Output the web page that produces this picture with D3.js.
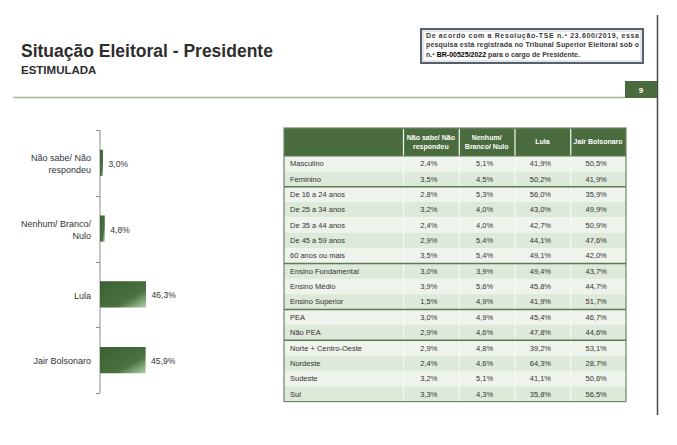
<!DOCTYPE html>
<html><head><meta charset="utf-8">
<script src="https://cdn.jsdelivr.net/npm/d3@7/dist/d3.min.js"></script>
<style>
body{margin:0;background:#fff;}
svg{display:block;font-family:"Liberation Sans",Arial,sans-serif;}
</style></head>
<body>
<svg id="c" width="677" height="445"></svg>
<script>
// ---------- data ----------
const barCategories = ["Não sabe/ Não respondeu", "Nenhum/ Branco/ Nulo", "Lula", "Jair Bolsonaro"];
const barValues = [3.0, 4.8, 46.3, 45.9];

const colHeaders = ["Não sabe/ Não respondeu", "Nenhum/ Branco/ Nulo", "Lula", "Jair Bolsonaro"];
const rowLabels = ["Masculino", "Feminino", "De 16 a 24 anos", "De 25 a 34 anos", "De 35 a 44 anos",
  "De 45 a 59 anos", "60 anos ou mais", "Ensino Fundamental", "Ensino Médio", "Ensino Superior",
  "PEA", "Não PEA", "Norte + Centro-Oeste", "Nordeste", "Sudeste", "Sul"];
const naoSabe   = [2.4, 3.5, 2.8, 3.2, 2.4, 2.9, 3.5, 3.0, 3.9, 1.5, 3.0, 2.9, 2.9, 2.4, 3.2, 3.3];
const nenhum    = [5.1, 4.5, 5.3, 4.0, 4.0, 5.4, 5.4, 3.9, 5.6, 4.9, 4.9, 4.6, 4.8, 4.6, 5.1, 4.3];
const lula      = [41.9, 50.2, 56.0, 43.0, 42.7, 44.1, 49.1, 49.4, 45.8, 41.9, 45.4, 47.8, 39.2, 64.3, 41.1, 35.8];
const bolsonaro = [50.5, 41.9, 35.9, 49.9, 50.9, 47.6, 42.0, 43.7, 44.7, 51.7, 46.7, 44.6, 53.1, 28.7, 50.6, 56.5];
const groupStarts = ["De 16 a 24 anos", "Ensino Fundamental", "PEA", "Norte + Centro-Oeste"];

const titleText = "Situação Eleitoral - Presidente";
const subtitleText = "ESTIMULADA";
const noteLines = ["De acordo com a Resolução-TSE n.º 23.600/2019, essa",
  "pesquisa está registrada no Tribunal Superior Eleitoral sob o"];
const pageNumber = "9";

// ---------- helpers ----------
const fmt = v => d3.format(".1f")(v).replace(".", ",") + "%";
const svg = d3.select("#c");
const green = "#4a6b3e";
const textCol = "#333";

// ---------- header / frame ----------
svg.append("text").attr("x", 21).attr("y", 57).attr("font-size", 17.5).attr("font-weight", "bold")
  .attr("fill", "#2e2e2e").text(titleText);
svg.append("text").attr("x", 21).attr("y", 73.5).attr("font-size", 11.5).attr("font-weight", "bold")
  .attr("fill", "#2e2e2e").text(subtitleText);

svg.append("line").attr("x1", 13).attr("x2", 625).attr("y1", 97.5).attr("y2", 97.5)
  .attr("stroke", "#a4b39a").attr("stroke-width", 1.5);
svg.append("line").attr("x1", 657.5).attr("x2", 657.5).attr("y1", 15).attr("y2", 415)
  .attr("stroke", "#4a4a4a").attr("stroke-width", 1.5);
svg.append("rect").attr("x", 625).attr("y", 81).attr("width", 32).attr("height", 17).attr("fill", green);
svg.append("text").attr("x", 641).attr("y", 92.5).attr("text-anchor", "middle").attr("font-size", 8)
  .attr("font-weight", "bold").attr("fill", "#fff").text(pageNumber);

// note box
svg.append("rect").attr("x", 421).attr("y", 29).attr("width", 222).attr("height", 34)
  .attr("fill", "#fff").attr("stroke", "#56606a").attr("stroke-width", 2);
svg.append("rect").attr("x", 423).attr("y", 31).attr("width", 218).attr("height", 30)
  .attr("fill", "none").attr("stroke", "#c9cdd2").attr("stroke-width", 1);
noteLines.forEach((l, i) => {
  svg.append("text").attr("x", 426).attr("y", 38 + i * 9.3).attr("font-size", 7).attr("font-weight", "bold")
    .attr("fill", "#3a3a3a").attr("textLength", 213).attr("lengthAdjust", "spacing").text(l);
});
const t3 = svg.append("text").attr("x", 426).attr("y", 56.6).attr("font-size", 7).attr("font-weight", "bold")
  .attr("fill", "#3a3a3a");
t3.append("tspan").text("n.º ");
t3.append("tspan").attr("fill", "#000").attr("font-weight", 900).text("BR-00525/2022");
t3.append("tspan").text(" para o cargo de Presidente.");

// ---------- bar chart ----------
const defs = svg.append("defs");
const grad = defs.append("linearGradient").attr("id", "barGrad")
  .attr("x1", "0").attr("y1", "0").attr("x2", "1").attr("y2", "1");
grad.append("stop").attr("offset", "0").attr("stop-color", "#3c5f33");
grad.append("stop").attr("offset", "0.66").attr("stop-color", "#4a7140");
grad.append("stop").attr("offset", "1").attr("stop-color", "#b3d1ab");

const yBar = d3.scaleBand().domain(barCategories).range([130, 393]).paddingInner(0.6).paddingOuter(0.3);
const yBand = d3.scaleBand().domain(barCategories).range([130, 393]);
const xBar = d3.scaleLinear().domain([0, 46.3]).range([100, 146]);

const gBar = svg.append("g");
gBar.append("line").attr("x1", 100).attr("x2", 100).attr("y1", 130).attr("y2", 393)
  .attr("stroke", "#8c8c8c").attr("stroke-width", 1);
const tickYs = barCategories.map(d => yBand(d)).concat([393]);
gBar.selectAll(".tk").data(tickYs).join("line").attr("x1", 96).attr("x2", 100)
  .attr("y1", d => Math.round(d) + 0.5).attr("y2", d => Math.round(d) + 0.5)
  .attr("stroke", "#8c8c8c");

gBar.selectAll(".bar").data(barCategories).join("rect")
  .attr("x", xBar(0)).attr("y", d => yBar(d))
  .attr("width", (d, i) => xBar(barValues[i]) - xBar(0)).attr("height", yBar.bandwidth())
  .attr("fill", "url(#barGrad)");

gBar.selectAll(".val").data(barCategories).join("text")
  .attr("x", (d, i) => xBar(barValues[i]) + 5.5).attr("y", d => yBand(d) + yBand.bandwidth() / 2 + 1)
  .attr("dy", "0.35em").attr("font-size", 8.6).attr("fill", textCol)
  .text((d, i) => fmt(barValues[i]));

// category labels with wrapping
gBar.selectAll(".cat").data(barCategories).join("text")
  .attr("text-anchor", "end").attr("font-size", 9).attr("fill", textCol)
  .each(function (d) {
    const el = d3.select(this);
    const words = d.split(" ");
    const lines = [];
    let cur = [];
    const probe = el.append("tspan");
    words.forEach(w => {
      const test = cur.concat([w]).join(" ");
      probe.text(test);
      if (probe.node().getComputedTextLength() > 75 && cur.length) {
        lines.push(cur.join(" "));
        cur = [w];
      } else cur.push(w);
    });
    lines.push(cur.join(" "));
    probe.remove();
    const cy = yBand(d) + yBand.bandwidth() / 2 + 1;
    const lh = 12;
    lines.forEach((l, i) => {
      el.append("tspan").attr("x", 91).attr("y", cy + (i - (lines.length - 1) / 2) * lh)
        .attr("dy", "0.35em").text(l);
    });
  });

// ---------- table ----------
const tblX0 = 284, tblX1 = 626, hdrY0 = 128, hdrY1 = 156, tblY1 = 401.6;
const colX = d3.scaleBand().domain(colHeaders).range([403, tblX1]);
const rowY = d3.scaleBand().domain(rowLabels).range([hdrY1, tblY1]);
const series = [naoSabe, nenhum, lula, bolsonaro];

const gT = svg.append("g");
gT.append("rect").attr("x", tblX0).attr("y", hdrY0).attr("width", tblX1 - tblX0).attr("height", hdrY1 - hdrY0)
  .attr("fill", green);
gT.selectAll(".row").data(rowLabels).join("rect")
  .attr("x", tblX0).attr("y", d => rowY(d)).attr("width", tblX1 - tblX0).attr("height", rowY.bandwidth())
  .attr("fill", (d, i) => i % 2 === 0 ? "#eef4ec" : "#dde9d9");
gT.selectAll(".vs").data(colHeaders).join("line")
  .attr("x1", d => colX(d) + 0.5).attr("x2", d => colX(d) + 0.5)
  .attr("y1", hdrY0 + 1).attr("y2", tblY1)
  .attr("stroke", "#f6f9f5").attr("stroke-width", 1.2);
gT.append("line").attr("x1", tblX0).attr("x2", tblX1).attr("y1", hdrY1).attr("y2", hdrY1)
  .attr("stroke", "#5f7a55").attr("stroke-width", 1);
gT.selectAll(".gs").data(groupStarts).join("line")
  .attr("x1", tblX0).attr("x2", tblX1)
  .attr("y1", d => rowY(d)).attr("y2", d => rowY(d))
  .attr("stroke", "#5f7a55").attr("stroke-width", 1.6);
gT.append("rect").attr("x", tblX0).attr("y", hdrY0).attr("width", tblX1 - tblX0).attr("height", tblY1 - hdrY0)
  .attr("fill", "none").attr("stroke", "#6f8466").attr("stroke-width", 1.2);

gT.selectAll(".hd").data(colHeaders).join("text")
  .attr("text-anchor", "middle").attr("font-size", 7).attr("font-weight", "bold").attr("fill", "#fff")
  .each(function (d) {
    const el = d3.select(this);
    const words = d.split(" ");
    const lines = [];
    let cur = [];
    const probe = el.append("tspan");
    words.forEach(w => {
      const test = cur.concat([w]).join(" ");
      probe.text(test);
      if (probe.node().getComputedTextLength() > 50 && cur.length) {
        lines.push(cur.join(" "));
        cur = [w];
      } else cur.push(w);
    });
    lines.push(cur.join(" "));
    probe.remove();
    const cx = colX(d) + colX.bandwidth() / 2;
    const cy = (hdrY0 + hdrY1) / 2;
    lines.forEach((l, i) => {
      el.append("tspan").attr("x", cx).attr("y", cy + (i - (lines.length - 1) / 2) * 8.6)
        .attr("dy", "0.35em").text(l);
    });
  });

gT.selectAll(".rl").data(rowLabels).join("text")
  .attr("x", 290).attr("y", d => rowY(d) + rowY.bandwidth() / 2).attr("dy", "0.35em")
  .attr("font-size", 7.5).attr("fill", textCol).text(d => d);

series.forEach((vals, c) => {
  gT.selectAll(".v" + c).data(vals).join("text")
    .attr("x", colX(colHeaders[c]) + colX.bandwidth() / 2 - 2)
    .attr("y", (v, i) => rowY(rowLabels[i]) + rowY.bandwidth() / 2).attr("dy", "0.35em")
    .attr("text-anchor", "middle").attr("font-size", 7.5).attr("fill", textCol).text(v => fmt(v));
});
</script>
</body></html>
